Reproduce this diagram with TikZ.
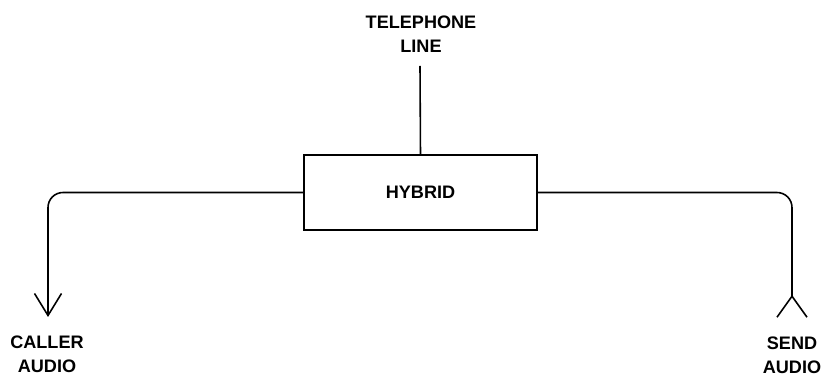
\documentclass[tikz,border=0pt]{standalone}
\usepackage{fontspec}
\setmainfont{Liberation Sans}
\usetikzlibrary{arrows.meta}
\newcommand\lblfont{\fontsize{10.3}{13.6}\selectfont\bfseries}

\begin{document}
\begin{tikzpicture}[
    x = 0.02cm, y = -0.02cm,
    line width = 0.9pt,
    lbl/.style    = {align=center, inner sep=0pt, font=\lblfont},
    block/.style  = {rectangle, draw, minimum width=4.66cm,
                     minimum height=1.5cm, font=\lblfont},
    wire/.style   = {rounded corners=0.3cm},
    outarr/.style = {-{Straight Barb[length=0.44cm, width=0.54cm]}},
    inarr/.style  = {-{Straight Barb[reversed, length=0.42cm, width=0.6cm]}}
]
\useasboundingbox (0,0) rectangle (833,388);

%% Hybrid block and its labels
\node[block] (hybrid) at (420.5,192.5) {HYBRID};
\node[lbl]   (phone)  at (421,34)  {TELEPHONE\\LINE};
\node[lbl]   (caller) at (47,354)  {CALLER\\AUDIO};
\node[lbl]   (send)   at (792,355) {SEND\\AUDIO};

%% Free ends of the wires
\coordinate (phoneend)  at (420,66);
\coordinate (callerend) at (48,317);
\coordinate (sendend)   at (792,318);

%% Wires
\draw (hybrid.north) -- (phoneend);
\draw[wire, outarr] (hybrid.west) -| (callerend);
\draw[wire, inarr]  (hybrid.east) -| (sendend);

\end{tikzpicture}
\end{document}
